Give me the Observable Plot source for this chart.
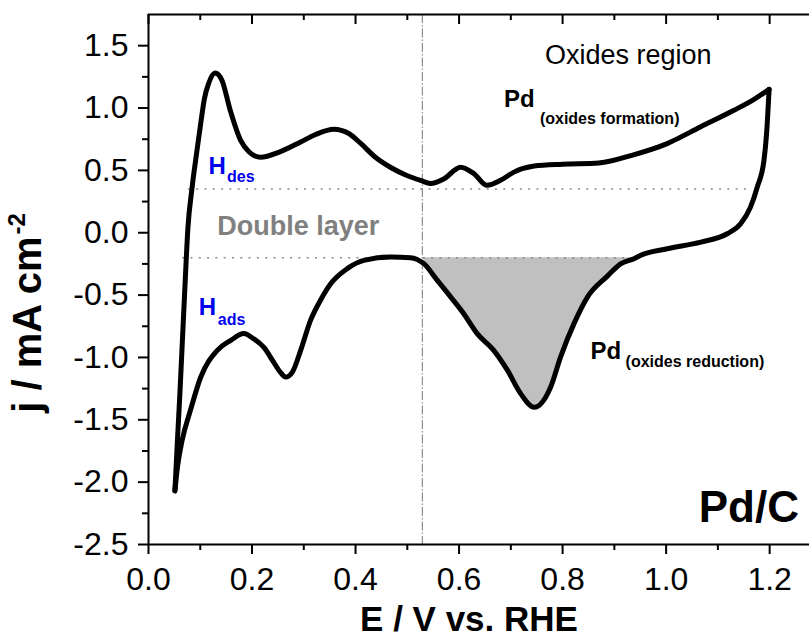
<!DOCTYPE html>
<html>
<head>
<meta charset="utf-8">
<script src="https://cdn.jsdelivr.net/npm/d3@7"></script>
<script src="https://cdn.jsdelivr.net/npm/@observablehq/plot@0.6"></script>
<style>
  html, body { margin: 0; padding: 0; background: #fff; overflow: hidden; }
</style>
</head>
<body>
<div id="chart"></div>
<script>
// Cyclic voltammogram of Pd/C: forward (anodic) and reverse (cathodic) sweeps.
const anodicE = [0.051, 0.056, 0.061, 0.066, 0.071, 0.076, 0.084, 0.093, 0.101, 0.108,
  0.116, 0.129, 0.142, 0.158, 0.178, 0.194, 0.216, 0.255, 0.294, 0.323,
  0.358, 0.387, 0.410, 0.439, 0.468, 0.497, 0.526, 0.545, 0.571, 0.603,
  0.629, 0.654, 0.680, 0.706, 0.745, 0.800, 0.870, 0.937, 1.002, 1.067,
  1.130, 1.170, 1.199];
const anodicJ = [-2.07, -1.66, -1.26, -0.82, -0.38, 0.03, 0.355, 0.64, 0.88, 1.075,
  1.195, 1.28, 1.22, 0.98, 0.74, 0.65, 0.605, 0.651, 0.728, 0.788,
  0.83, 0.796, 0.716, 0.603, 0.523, 0.463, 0.419, 0.395, 0.433, 0.526,
  0.473, 0.38, 0.42, 0.486, 0.535, 0.55, 0.56, 0.625, 0.715, 0.85,
  0.98, 1.07, 1.15];

const cathodicE = [1.199, 1.195, 1.189, 1.176, 1.163, 1.144, 1.118, 1.067, 1.002, 0.951,
  0.938, 0.912, 0.886, 0.848, 0.822, 0.796, 0.777, 0.745, 0.719, 0.693,
  0.667, 0.635, 0.609, 0.584, 0.558, 0.532, 0.506, 0.468, 0.416, 0.384,
  0.352, 0.332, 0.313, 0.294, 0.278, 0.265, 0.255, 0.242, 0.223, 0.203,
  0.184, 0.159, 0.133, 0.101, 0.081, 0.065, 0.056, 0.051];
const cathodicJ = [1.15, 0.85, 0.58, 0.365, 0.205, 0.072, -0.008, -0.075, -0.128, -0.18,
  -0.208, -0.249, -0.35, -0.516, -0.729, -0.997, -1.237, -1.40, -1.29, -1.10,
  -0.943, -0.809, -0.649, -0.516, -0.382, -0.248, -0.20, -0.195, -0.222, -0.288,
  -0.409, -0.543, -0.703, -0.943, -1.117, -1.157, -1.12, -1.04, -0.92, -0.85,
  -0.809, -0.863, -0.943, -1.157, -1.424, -1.664, -1.878, -2.07];

// Double-layer limits (dotted guides) and the onset of the oxide region
const guideJ = [0.35, -0.2];
const guideFrom = [0.077, 0.066];
const guideTo = [1.16, 0.937];
const oxideOnsetE = 0.529;
const reductionBaseJ = -0.2;

// Axis ticks
const xMajor = [0, 0.2, 0.4, 0.6, 0.8, 1.0, 1.2];
const xMinor = [0.1, 0.3, 0.5, 0.7, 0.9, 1.1];
const yMajor = [-2.5, -2.0, -1.5, -1.0, -0.5, 0.0, 0.5, 1.0, 1.5];
const yMinor = [-2.25, -1.75, -1.25, -0.75, -0.25, 0.25, 0.75, 1.25];
const xDomain = [0, 1.277];
const yDomain = [-2.5, 1.75];

const byE = (a, b) => a.E - b.E;
const anodic = anodicE.map((E, i) => ({E, j: anodicJ[i]}));
const cathodic = cathodicE.map((E, i) => ({E, j: cathodicJ[i]}));
const guides = guideJ.map((j, i) => ({j, x1: guideFrom[i], x2: guideTo[i]}));
// each sweep is monotonic in E, so it can be drawn left to right
const cathodicByE = cathodic.slice().sort(byE);
const reductionPeak = cathodicByE.filter(d => d.E >= oxideOnsetE && d.E <= guideTo[1] + 0.005);

const bold = {fontWeight: "bold"};
const label = (text, E, j, opts = {}) =>
  Plot.text([text], {x: E, y: j, text: d => d, textAnchor: "start", lineAnchor: "bottom", ...opts});

const chart = Plot.plot({
  width: 809,
  height: 638,
  marginLeft: 148,
  marginRight: 0,
  marginTop: 14,
  marginBottom: 94,
  style: {fontFamily: "'Liberation Sans', Arial, sans-serif", background: "#fff", color: "#000"},
  x: {domain: xDomain},
  y: {domain: yDomain},
  marks: [
    // shaded oxide-reduction charge
    Plot.areaY(reductionPeak, {x: "E", y1: reductionBaseJ, y2: "j", fill: "#c0c0c0", curve: "monotone-x"}),
    Plot.ruleY(guides, {y: "j", x1: "x1", x2: "x2", stroke: "#8a8a8a", strokeWidth: 1.5, strokeDasharray: "2,6.3"}),
    Plot.ruleX([oxideOnsetE], {stroke: "#777", strokeWidth: 1, strokeDasharray: "9,2,1.5,2"}),
    Plot.line(anodic, {x: "E", y: "j", stroke: "#000", strokeWidth: 5, curve: "monotone-x", strokeLinejoin: "round"}),
    Plot.line(cathodicByE, {x: "E", y: "j", stroke: "#000", strokeWidth: 5, curve: "monotone-x", strokeLinejoin: "round"}),

    // frame lines
    Plot.ruleY([yDomain[0], yDomain[1]], {stroke: "#000", strokeWidth: 2}),
    Plot.ruleX([xDomain[0]], {stroke: "#000", strokeWidth: 2}),

    // axes
    Plot.axisX(xMajor, {tickSize: 10, tickPadding: 13, fontSize: 32, strokeWidth: 2, tickFormat: d => d.toFixed(1), label: null}),
    Plot.axisX(xMinor, {tickSize: 6, strokeWidth: 2, tickFormat: () => "", label: null}),
    Plot.axisY(yMajor, {tickSize: 10, tickPadding: 10, fontSize: 32, strokeWidth: 2, tickFormat: d => d.toFixed(1), label: null}),
    Plot.axisY(yMinor, {tickSize: 6, strokeWidth: 2, tickFormat: () => "", label: null}),
    // inward ticks along the top edge
    Plot.ruleX(xMajor, {x: d => d, y1: yDomain[1], y2: yDomain[1], insetBottom: -10, stroke: "#000", strokeWidth: 2}),
    Plot.ruleX(xMinor, {x: d => d, y1: yDomain[1], y2: yDomain[1], insetBottom: -6, stroke: "#000", strokeWidth: 2}),

    // axis titles
    Plot.text(["E / V vs. RHE"], {frameAnchor: "bottom", text: d => d, dx: -10, dy: 86, lineAnchor: "bottom", fontSize: 35, ...bold}),
    Plot.text(["j / mA cm"], {frameAnchor: "left", text: d => d, rotate: -90, dx: -108, dy: 45, lineAnchor: "bottom", textAnchor: "middle", fontSize: 40, ...bold}),
    Plot.text(["-2"], {frameAnchor: "left", text: d => d, rotate: -90, dx: -124, dy: -45, lineAnchor: "bottom", textAnchor: "start", fontSize: 24, ...bold}),

    // region annotations
    label("Oxides region", 0.927, 1.357, {textAnchor: "middle", fontSize: 27}),
    label("Pd", 0.6866, 1.006, {fontSize: 24, ...bold}),
    label("(oxides formation)", 0.6866, 1.006, {dx: 36, dy: 16.6, fontSize: 16, ...bold}),
    label("H", 0.1161, 0.473, {fontSize: 24, fill: "#0000ee", ...bold}),
    label("des", 0.1161, 0.473, {dx: 18.4, dy: 8.4, fontSize: 16, fill: "#0000ee", ...bold}),
    label("Double layer", 0.1327, -0.0216, {fontSize: 27, fill: "#808080", ...bold}),
    label("H", 0.0972, -0.663, {fontSize: 24, fill: "#0000ee", ...bold}),
    label("ads", 0.0972, -0.663, {dx: 19, dy: 10, fontSize: 16, fill: "#0000ee", ...bold}),
    label("Pd", 0.854, -1.0096, {fontSize: 24, ...bold}),
    label("(oxides reduction)", 0.854, -1.0096, {dx: 35, dy: 8.4, fontSize: 16, ...bold}),
    label("Pd/C", 1.2566, -2.319, {textAnchor: "end", fontSize: 44, ...bold})
  ]
});

document.getElementById("chart").append(chart);
</script>
</body>
</html>
